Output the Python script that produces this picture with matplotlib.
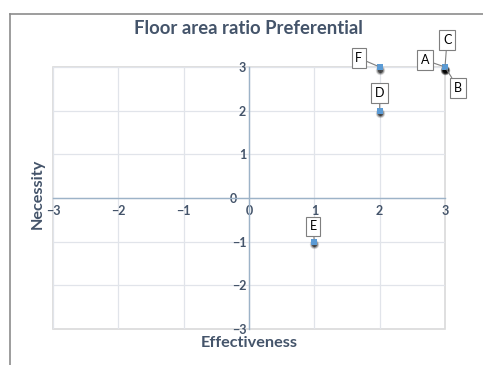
import matplotlib
matplotlib.use("Agg")
import matplotlib.pyplot as plt
from matplotlib.patches import Rectangle
from matplotlib.transforms import ScaledTranslation

plt.rcParams['font.family'] = ['Lato', 'DejaVu Sans']

# Item positions on the effectiveness / necessity grid
labels = ["A", "B", "C", "D", "E", "F"]
effectiveness = [3, 3, 3, 2, 1, 2]
necessity = [3, 3, 3, 2, -1, 3]
# Callout offsets (in points) for each label
label_offsets = {"A": (-14.5, 5), "B": (9.5, -15), "C": (1.5, 19.5),
                 "D": (0, 12.7), "E": (-1, 11), "F": (-15, 6.5)}

ticks = [-3, -2, -1, 0, 1, 2, 3]
title = "Floor area ratio Preferential"
xlabel = "Effectiveness"
ylabel = "Necessity"

text_color = "#44546A"
W, H = 483, 365
fig = plt.figure(figsize=(W / 100, H / 100), dpi=100)
ax = fig.add_axes([53 / W, 1 - 329 / H, (445 - 53) / W, (329 - 67) / H])

ax.set_xlim(-3, 3)
ax.set_ylim(-3, 3)
ax.set_xticks(ticks)
ax.set_yticks(ticks)
ax.grid(True, color="#E1E4EA", linewidth=0.9)
ax.set_axisbelow(True)

for s in ["top", "right"]:
    ax.spines[s].set_visible(False)
ax.spines["left"].set_position("zero")
ax.spines["bottom"].set_position("zero")
for s in ["left", "bottom"]:
    ax.spines[s].set_color("#9DB3C8")
    ax.spines[s].set_linewidth(1.0)
ax.add_patch(Rectangle((0, 0), 1, 1, transform=ax.transAxes, fill=False,
                       edgecolor="#D9D9D9", linewidth=1.2, clip_on=False, zorder=0))

ax.tick_params(length=0, labelsize=9, labelcolor=text_color)
ax.tick_params(axis="x", pad=5)
ax.tick_params(axis="y", pad=2)
for lab in ax.get_xticklabels() + ax.get_yticklabels():
    lab.set_fontweight("bold")
# nudge the y-axis zero label left so it clears the x-axis zero
for lab, t in zip(ax.get_yticklabels(), ticks):
    if t == 0:
        lab.set_transform(lab.get_transform() + ScaledTranslation(-9 / 100, 0, fig.dpi_scale_trans))

# Soft shadow under each marker
for size, a in [(45, 0.15), (28, 0.3), (14, 0.5)]:
    ax.scatter(effectiveness, [v - 0.06 for v in necessity], s=size,
               color="black", alpha=a, linewidths=0, zorder=3, clip_on=False)
ax.scatter(effectiveness, necessity, s=14, marker="s", color="#5B9BD5",
           linewidths=0, zorder=4, clip_on=False)

for lab, x, y in zip(labels, effectiveness, necessity):
    dx, dy = label_offsets[lab]
    ax.annotate(lab, (x, y), xytext=(dx, dy), textcoords="offset points",
                ha="center", va="center", fontsize=9, color="black",
                bbox=dict(boxstyle="square,pad=0.3", fc="white", ec="#7F7F7F", lw=0.8),
                arrowprops=dict(arrowstyle="-", color="#7F7F7F", lw=0.8,
                                shrinkA=0, shrinkB=2),
                zorder=5, annotation_clip=False)

fig.text(248 / W, 1 - 29 / H, title, ha="center", va="center",
         fontsize=13.3, fontweight="bold", color=text_color)
fig.text(249 / W, 1 - 343 / H, xlabel, ha="center", va="center",
         fontsize=11.7, fontweight="bold", color=text_color)
fig.text(38 / W, 1 - 194 / H, ylabel, ha="center", va="center", rotation=90,
         fontsize=11.7, fontweight="bold", color=text_color)

# Chart frame
fig.add_artist(plt.Line2D([10 / W, 10 / W], [0, 1 - 14 / H], transform=fig.transFigure,
                          color="#8C8C8C", linewidth=1.2))
fig.add_artist(plt.Line2D([10 / W, 1], [1 - 14 / H, 1 - 14 / H], transform=fig.transFigure,
                          color="#8C8C8C", linewidth=1.2))

fig.savefig("out.png", dpi=100)
